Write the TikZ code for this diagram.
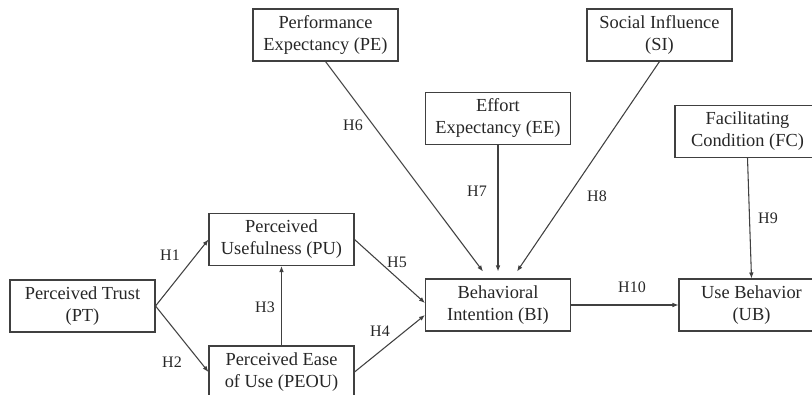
\documentclass[tikz,border=0pt]{standalone}
\usepackage{fontspec}
\setmainfont{Liberation Serif}
\usetikzlibrary{arrows.meta}
\begin{document}
\begin{tikzpicture}[x=0.75pt,y=-0.75pt,
  box/.style={draw=black!75, line width=0.8pt, minimum width=108.75pt, minimum height=39pt,
    inner sep=0pt, align=center, text=black!85,
    font=\fontsize{13.8pt}{16.5pt}\selectfont},
  hlabel/.style={inner sep=0pt, text=black!85, font=\fontsize{12pt}{14pt}\selectfont},
  link/.style={draw=black!75, line width=0.8pt, -{Latex[length=4.5pt,width=3.5pt]}}]
\useasboundingbox (0,0) rectangle (812,395);
% boxes
\node[box] (PT)   at (82.5,306)  {Perceived Trust\\(PT)};
\node[box] (PU)   at (281.5,239.5) {Perceived\\Usefulness (PU)};
\node[box] (PEOU) at (281.5,372) {Perceived Ease\\of Use (PEOU)};
\node[box] (PE)   at (325.5,35)  {Performance\\Expectancy (PE)};
\node[box] (EE)   at (498,118.5) {Effort\\Expectancy (EE)};
\node[box] (SI)   at (659.5,35)  {Social Influence\\(SI)};
\node[box] (FC)   at (747.5,131.5) {Facilitating\\Condition (FC)};
\node[box] (BI)   at (498,305)   {Behavioral\\Intention (BI)};
\node[box] (UB)   at (751.5,305) {Use Behavior\\(UB)};
% connectors
\draw[link] (PT.east) -- (PU.west);
\draw[link] (PT.east) -- (PEOU.west);
\draw[link] (PEOU.north) -- (PU.south);
\draw[link] (PU.east) -- ([yshift=1.5pt]BI.west);
\draw[link] (PEOU.east) -- ([yshift=-7.5pt]BI.west);
\draw[link] (PE.south) -- ([xshift=-11.25pt,yshift=5.25pt]BI.north);
\draw[link] (EE.south) -- ([yshift=5.25pt]BI.north);
\draw[link] (SI.south) -- ([xshift=14.25pt,yshift=5.25pt]BI.north);
\draw[link] (FC.south) -- (UB.north);
\draw[link] (BI.east) -- (UB.west);
% labels
\node[hlabel] (h1)  at (170,255) {H1};
\node[hlabel] (h2)  at (172,362) {H2};
\node[hlabel] (h3)  at (265,307) {H3};
\node[hlabel] (h4)  at (380,331) {H4};
\node[hlabel] (h5)  at (397,262) {H5};
\node[hlabel] (h6)  at (353,125) {H6};
\node[hlabel] (h7)  at (477,191) {H7};
\node[hlabel] (h8)  at (597,196) {H8};
\node[hlabel] (h9)  at (768,218) {H9};
\node[hlabel] (h10) at (632,287) {H10};
\end{tikzpicture}
\end{document}
